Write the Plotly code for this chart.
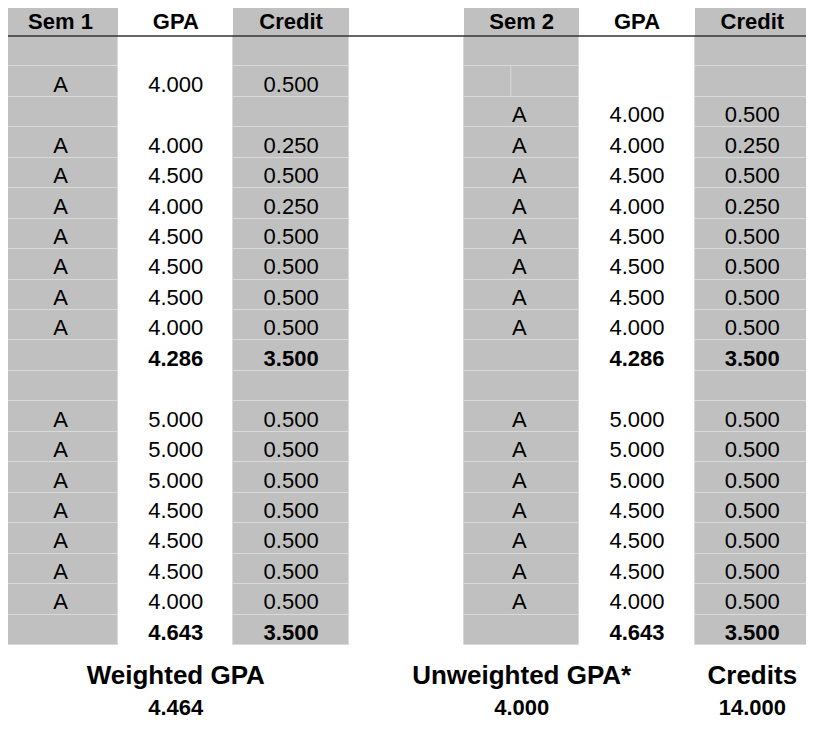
import plotly.graph_objects as go

# ---- data ----
headers = ["Sem 1", "GPA", "Credit", "", "Sem 2", "GPA", "Credit"]

sem1_grade_a = ["A", "A", "A", "A", "A", "A", "A", "A"]
sem1_gpa_a = [4.0, 4.0, 4.5, 4.0, 4.5, 4.5, 4.5, 4.0]
sem1_credit_a = [0.5, 0.25, 0.5, 0.25, 0.5, 0.5, 0.5, 0.5]
sem1_grade_b = ["A", "A", "A", "A", "A", "A", "A"]
sem1_gpa_b = [5.0, 5.0, 5.0, 4.5, 4.5, 4.5, 4.0]
sem1_credit_b = [0.5, 0.5, 0.5, 0.5, 0.5, 0.5, 0.5]
sem1_total_gpa = [4.286, 4.643]
sem1_total_credit = [3.5, 3.5]

sem2_grade_a = ["A", "A", "A", "A", "A", "A", "A", "A"]
sem2_gpa_a = [4.0, 4.0, 4.5, 4.0, 4.5, 4.5, 4.5, 4.0]
sem2_credit_a = [0.5, 0.25, 0.5, 0.25, 0.5, 0.5, 0.5, 0.5]
sem2_grade_b = ["A", "A", "A", "A", "A", "A", "A"]
sem2_gpa_b = [5.0, 5.0, 5.0, 4.5, 4.5, 4.5, 4.0]
sem2_credit_b = [0.5, 0.5, 0.5, 0.5, 0.5, 0.5, 0.5]
sem2_total_gpa = [4.286, 4.643]
sem2_total_credit = [3.5, 3.5]

summary_labels = ["Weighted GPA", "Unweighted GPA*", "Credits"]
summary_values = [4.464, 4.000, 14.000]

# ---- layout of the sheet ----
FONT = "Liberation Sans, Arial, sans-serif"
GRAY = "#c0c0c0"
GRID = "#d9d9d9"
N_ROWS = 20
gray_cols = [0, 2, 4, 6]
sem1_rows_a = [1] + list(range(3, 10))
sem2_rows_a = list(range(2, 10))
rows_b = list(range(12, 19))
total_rows = [10, 19]
dy = 0.15  # text sits a little low in each cell

fig = go.Figure()

# gray cell backgrounds
for c in gray_cols:
    fig.add_trace(go.Bar(
        x=[c] * N_ROWS, y=[1] * N_ROWS, base=[r - 0.5 for r in range(N_ROWS)],
        width=1, marker=dict(color=GRAY, line=dict(color=GRID, width=1)),
        hoverinfo="skip", showlegend=False))
    fig.add_trace(go.Bar(
        x=[c], y=[0.92], base=[-1.42], width=1,
        marker=dict(color=GRAY, line=dict(color=GRAY, width=0)),
        hoverinfo="skip", showlegend=False))


def fmt(vals):
    return [f"{v:.3f}" for v in vals]


def add_text(xs, ys, texts, bold=False, size=22):
    fig.add_trace(go.Scatter(
        x=xs, y=ys, text=texts, mode="text", textposition="middle center",
        textfont=dict(family=FONT, size=size, color="black",
                      weight="bold" if bold else "normal"),
        hoverinfo="skip", showlegend=False))


# header
add_text(list(range(7)), [-0.9] * 7, headers, bold=True)

# semester 1
ya = [r + dy for r in sem1_rows_a]
yb = [r + dy for r in rows_b]
add_text([0] * len(ya) + [0] * len(yb), ya + yb, sem1_grade_a + sem1_grade_b)
add_text([1] * len(ya) + [1] * len(yb), ya + yb, fmt(sem1_gpa_a + sem1_gpa_b))
add_text([2] * len(ya) + [2] * len(yb), ya + yb, fmt(sem1_credit_a + sem1_credit_b))
yt = [r + dy for r in total_rows]
add_text([1, 1], yt, fmt(sem1_total_gpa), bold=True)
add_text([2, 2], yt, fmt(sem1_total_credit), bold=True)

# semester 2
ya = [r + dy for r in sem2_rows_a]
add_text([3.98] * len(ya) + [3.98] * len(yb), ya + yb, sem2_grade_a + sem2_grade_b)
add_text([5] * len(ya) + [5] * len(yb), ya + yb, fmt(sem2_gpa_a + sem2_gpa_b))
add_text([6] * len(ya) + [6] * len(yb), ya + yb, fmt(sem2_credit_a + sem2_credit_b))
add_text([5, 5], yt, fmt(sem2_total_gpa), bold=True)
add_text([6, 6], yt, fmt(sem2_total_credit), bold=True)

# summary block
add_text([1, 4, 6], [20.58] * 3, summary_labels, bold=True, size=26)
add_text([1, 4, 6], [21.62] * 3, fmt(summary_values), bold=True, size=22)

# rule under header and split border in the sem 2 column
fig.add_shape(type="line", xref="paper", x0=0, x1=1, y0=-0.5, y1=-0.5,
              line=dict(color="#333333", width=1.5))
fig.add_shape(type="line", x0=3.905, x1=3.905, y0=0.5, y1=1.5,
              line=dict(color=GRID, width=1))

# page body keeps an 8px margin, so the figure is a little smaller than the window
fig.update_layout(
    width=806, height=728, margin=dict(l=0, r=0, t=0, b=0),
    paper_bgcolor="white", plot_bgcolor="white",
    barmode="overlay", bargap=0,
    xaxis=dict(range=[-0.4553, 6.535], visible=False, fixedrange=True),
    yaxis=dict(range=[22.489, -1.4195], visible=False, fixedrange=True),
)

fig.write_html("out.html")
